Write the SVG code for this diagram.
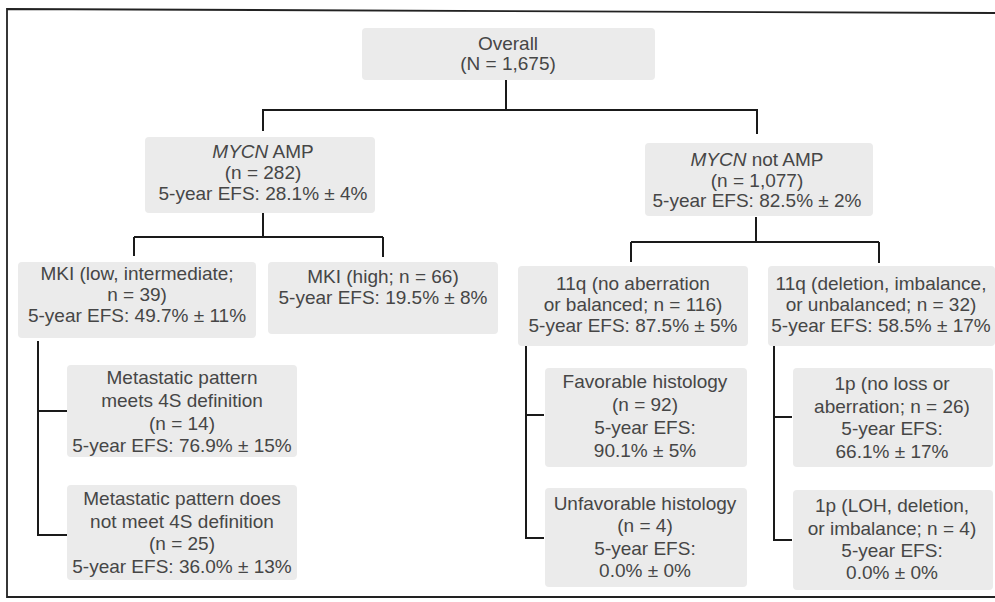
<svg xmlns="http://www.w3.org/2000/svg" width="995" height="602" viewBox="0 0 995 602">
<style>
.box{fill:#ebebeb;stroke:none}
.t{font-family:"Liberation Sans",Arial,Helvetica,sans-serif;font-size:19px;fill:#464646;text-anchor:middle}
.i{font-style:italic}
.ln{stroke:#1a1a1a;stroke-width:2;fill:none}
.frame{stroke:#222;stroke-width:1.8;fill:none}
</style>
<rect x="0" y="0" width="995" height="602" fill="#ffffff"/>
<path class="frame" d="M995,13 L7,9 L7,597 L995,597"/>
<g id="connectors">
<path class="ln" d="M506,80 V110 M263,110 H757 M263,109 V131 M757,109 V134"/>
<path class="ln" d="M263,213 V237 M134,237 H383 M134,237 V256 M383,237 V257"/>
<path class="ln" d="M756,217 V242 M631,242 H879 M631,242 V262 M879,242 V263"/>
<path class="ln" d="M38,341 V535 M38,411 H67 M37,535 H67"/>
<path class="ln" d="M526,345 V538 M526,415 H544 M525,538 H544"/>
<path class="ln" d="M774,345 V540 M774,417 H792 M773,540 H792"/>
</g>
<g id="overall">
<rect class="box" x="362" y="28" width="293" height="52" rx="4"/>
<text class="t" x="508" y="50">Overall</text>
<text class="t" x="508" y="70">(N = 1,675)</text>
</g>
<g id="mycn-amp">
<rect class="box" x="145" y="137" width="230" height="76" rx="4"/>
<text class="t" x="263" y="158"><tspan class="i">MYCN</tspan> AMP</text>
<text class="t" x="263" y="179">(n = 282)</text>
<text class="t" x="263" y="200">5-year EFS: 28.1% ± 4%</text>
</g>
<g id="mycn-not-amp">
<rect class="box" x="645" y="143" width="228" height="73" rx="4"/>
<text class="t" x="757" y="166"><tspan class="i">MYCN</tspan> not AMP</text>
<text class="t" x="757" y="187">(n = 1,077)</text>
<text class="t" x="757" y="207">5-year EFS: 82.5% ± 2%</text>
</g>
<g id="mki-low">
<rect class="box" x="18" y="262" width="238" height="76" rx="4"/>
<text class="t" x="137" y="280">MKI (low, intermediate;</text>
<text class="t" x="137" y="301">n = 39)</text>
<text class="t" x="137" y="322">5-year EFS: 49.7% ± 11%</text>
</g>
<g id="mki-high">
<rect class="box" x="268" y="262" width="230" height="72" rx="4"/>
<text class="t" x="383" y="283">MKI (high; n = 66)</text>
<text class="t" x="383" y="304">5-year EFS: 19.5% ± 8%</text>
</g>
<g id="q11-no">
<rect class="box" x="518" y="266" width="230" height="80" rx="4"/>
<text class="t" x="633" y="290">11q (no aberration</text>
<text class="t" x="633" y="311">or balanced; n = 116)</text>
<text class="t" x="633" y="332">5-year EFS: 87.5% ± 5%</text>
</g>
<g id="q11-del">
<rect class="box" x="768" y="266" width="227" height="80" rx="4"/>
<text class="t" x="881" y="290">11q (deletion, imbalance,</text>
<text class="t" x="881" y="311">or unbalanced; n = 32)</text>
<text class="t" x="881" y="332">5-year EFS: 58.5% ± 17%</text>
</g>
<g id="meets-4s">
<rect class="box" x="67" y="365" width="230" height="92" rx="4"/>
<text class="t" x="182" y="384">Metastatic pattern</text>
<text class="t" x="182" y="407">meets 4S definition</text>
<text class="t" x="182" y="430">(n = 14)</text>
<text class="t" x="182" y="452">5-year EFS: 76.9% ± 15%</text>
</g>
<g id="not-meets-4s">
<rect class="box" x="67" y="485" width="230" height="95" rx="4"/>
<text class="t" x="182" y="505">Metastatic pattern does</text>
<text class="t" x="182" y="528">not meet 4S definition</text>
<text class="t" x="182" y="550">(n = 25)</text>
<text class="t" x="182" y="573">5-year EFS: 36.0% ± 13%</text>
</g>
<g id="favorable">
<rect class="box" x="545" y="368" width="202" height="99" rx="4"/>
<text class="t" x="645" y="388">Favorable histology</text>
<text class="t" x="645" y="411">(n = 92)</text>
<text class="t" x="645" y="434">5-year EFS:</text>
<text class="t" x="645" y="457">90.1% ± 5%</text>
</g>
<g id="unfavorable">
<rect class="box" x="545" y="488" width="202" height="99" rx="4"/>
<text class="t" x="645" y="510">Unfavorable histology</text>
<text class="t" x="645" y="532">(n = 4)</text>
<text class="t" x="645" y="555">5-year EFS:</text>
<text class="t" x="645" y="577">0.0% ± 0%</text>
</g>
<g id="p1-no-loss">
<rect class="box" x="793" y="368" width="200" height="99" rx="4"/>
<text class="t" x="892" y="390">1p (no loss or</text>
<text class="t" x="892" y="413">aberration; n = 26)</text>
<text class="t" x="892" y="435">5-year EFS:</text>
<text class="t" x="892" y="458">66.1% ± 17%</text>
</g>
<g id="p1-loh">
<rect class="box" x="793" y="490" width="200" height="100" rx="4"/>
<text class="t" x="892" y="512">1p (LOH, deletion,</text>
<text class="t" x="892" y="535">or imbalance; n = 4)</text>
<text class="t" x="892" y="557">5-year EFS:</text>
<text class="t" x="892" y="579">0.0% ± 0%</text>
</g>
</svg>
